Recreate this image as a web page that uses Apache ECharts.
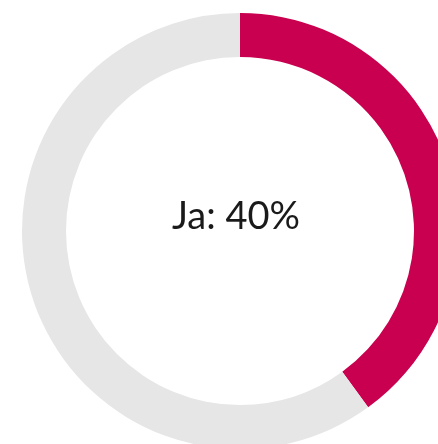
<!DOCTYPE html>
<html><head><meta charset="utf-8">
<script src="https://cdn.jsdelivr.net/npm/echarts@6/dist/echarts.min.js"></script>
<style>html,body{margin:0;padding:0;background:#fff}#c{width:438px;height:444px}</style>
</head><body><div id="c"></div>
<script>
const categories = ['Ja', 'Nein'];
const values = [40, 60];
const colors = ['#C8004F', '#E6E6E6'];
const centerLabel = categories[0] + ': ' + values[0] + '%';

const chart = echarts.init(document.getElementById('c'), null, {renderer: 'canvas'});
chart.setOption({
  animation: false,
  series: [{
    type: 'pie',
    center: [240, 231],
    radius: [174, 218],
    startAngle: 90,
    clockwise: true,
    silent: true,
    label: {show: false},
    labelLine: {show: false},
    itemStyle: {borderWidth: 0},
    data: categories.map((c, i) => ({name: c, value: values[i], itemStyle: {color: colors[i]}}))
  }],
  graphic: [{
    type: 'text',
    x: 236, y: 217,
    style: {
      text: centerLabel,
      font: '38px Lato',
      fill: '#1a1a1a',
      align: 'center',
      verticalAlign: 'middle'
    }
  }]
});
</script></body></html>
